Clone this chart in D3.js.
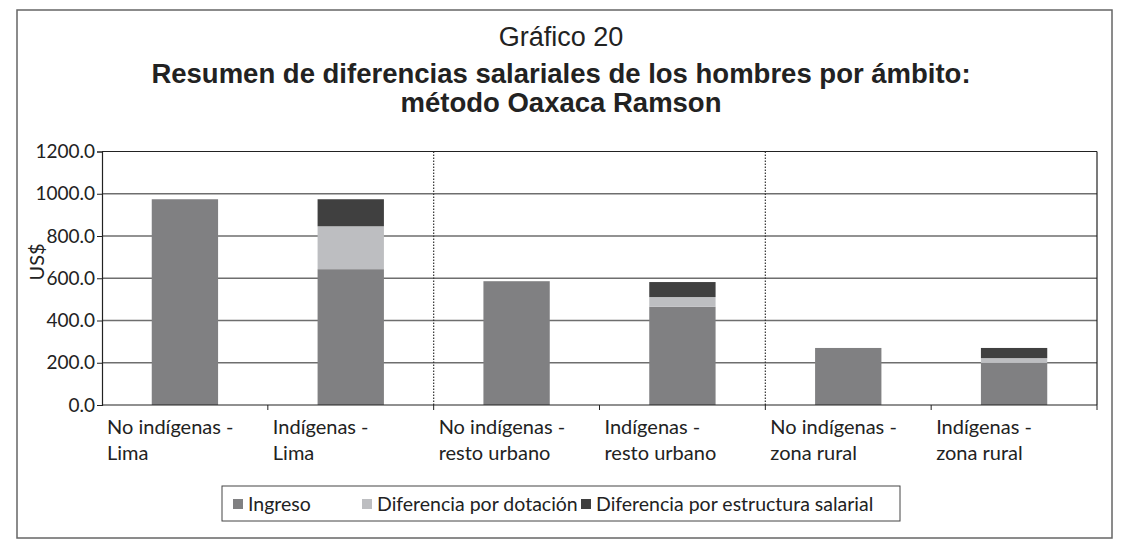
<!DOCTYPE html>
<html>
<head>
<meta charset="utf-8">
<script src="https://cdn.jsdelivr.net/npm/d3@7"></script>
<style>
  body { margin: 0; background: #fff; }
  text { font-family: Lato, "Open Sans", sans-serif; fill: #222; }
  .title { font-family: "Liberation Sans", Arial, sans-serif; }
</style>
</head>
<body>
<svg id="chart" width="1122" height="539"></svg>
<script>
// ---- data ----
var categories = ["No indígenas - Lima", "Indígenas - Lima", "No indígenas - resto urbano",
	"Indígenas - resto urbano", "No indígenas - zona rural", "Indígenas - zona rural"];
var labelLines = [["No indígenas -", "Lima"], ["Indígenas -", "Lima"], ["No indígenas -", "resto urbano"],
	["Indígenas -", "resto urbano"], ["No indígenas -", "zona rural"], ["Indígenas -", "zona rural"]];
var ingreso = [974, 643, 586, 465, 270, 199];
var dotacion = [0, 203, 0, 46, 0, 23];
var estructura = [0, 128, 0, 71, 0, 48];
var seriesNames = ["Ingreso", "Diferencia por dotación", "Diferencia por estructura salarial"];
var seriesColors = ["#808082", "#bdbec1", "#404040"];
var yTicks = [0, 200, 400, 600, 800, 1000, 1200];

var svg = d3.select("#chart");
var plotLeft = 102, plotRight = 1097, plotTop = 151.5, plotBottom = 405;

// outer frame
svg.append("rect").attr("x", 17).attr("y", 10).attr("width", 1095).attr("height", 528)
	.attr("fill", "none").attr("stroke", "#666").attr("stroke-width", 1.5);

// titles
svg.append("text").attr("class", "title").attr("x", 561).attr("y", 46).attr("text-anchor", "middle")
	.style("font-size", "27px").text("Gráfico 20");
svg.append("text").attr("class", "title").attr("x", 561).attr("y", 83).attr("text-anchor", "middle")
	.style("font-size", "27.5px").style("font-weight", "bold")
	.text("Resumen de diferencias salariales de los hombres por ámbito:");
svg.append("text").attr("class", "title").attr("x", 561).attr("y", 112).attr("text-anchor", "middle")
	.style("font-size", "27.5px").style("font-weight", "bold").text("método Oaxaca Ramson");

var x = d3.scaleBand().domain(categories).range([plotLeft, plotRight]).paddingInner(0).paddingOuter(0);
var y = d3.scaleLinear().domain([0, 1200]).range([plotBottom, plotTop]);

// gridlines
svg.append("g").selectAll("line").data(yTicks.slice(1, -1)).enter().append("line")
	.attr("x1", plotLeft).attr("x2", plotRight)
	.attr("y1", function(d) { return y(d); }).attr("y2", function(d) { return y(d); })
	.attr("stroke", "#6e6e6e").attr("stroke-width", 1.5);

// plot border top / right
svg.append("line").attr("x1", plotLeft).attr("x2", plotRight).attr("y1", y(1200)).attr("y2", y(1200))
	.attr("stroke", "#222").attr("stroke-width", 1.2);
svg.append("line").attr("x1", plotRight).attr("x2", plotRight).attr("y1", y(1200)).attr("y2", y(0))
	.attr("stroke", "#222").attr("stroke-width", 1.2);

// dotted separators
[2, 4].forEach(function(i) {
	var xs = x(categories[i]);
	svg.append("line").attr("x1", xs).attr("x2", xs).attr("y1", y(1200)).attr("y2", y(0))
		.attr("stroke", "#333").attr("stroke-width", 1.2).attr("stroke-dasharray", "1.5,1.5");
});

// stacked bars
var rows = categories.map(function(c, i) {
	return { cat: c, a: ingreso[i], b: dotacion[i], c: estructura[i] };
});
var stack = d3.stack().keys(["a", "b", "c"])(rows);
var barW = x.bandwidth() * 0.4;
svg.append("g").selectAll("g").data(stack).enter().append("g")
	.attr("fill", function(d, i) { return seriesColors[i]; })
	.selectAll("rect").data(function(d) { return d; }).enter().append("rect")
		.attr("x", function(d) { return x(d.data.cat) + (x.bandwidth() - barW) / 2; })
		.attr("width", barW)
		.attr("y", function(d) { return y(d[1]); })
		.attr("height", function(d) { return y(d[0]) - y(d[1]); });

// y axis
var yAxis = svg.append("g").attr("transform", "translate(" + plotLeft + ",0)")
	.call(d3.axisLeft(y).tickValues(yTicks).tickSize(5).tickPadding(2)
		.tickFormat(function(d) { return d3.format(".1f")(d); }));
yAxis.select(".domain").attr("stroke", "#222").attr("stroke-width", 1.2);
yAxis.selectAll(".tick line").attr("stroke", "#222");
yAxis.selectAll("text").style("font-size", "19px").style("font-family", "Lato, sans-serif").attr("fill", "#222");

// x axis
var xAxis = svg.append("g").attr("transform", "translate(0," + plotBottom + ")");
xAxis.append("line").attr("x1", plotLeft).attr("x2", plotRight).attr("stroke", "#222").attr("stroke-width", 1.2);
xAxis.selectAll(".xt").data(categories).enter().append("line")
	.attr("x1", function(d) { return x(d) + x.bandwidth(); })
	.attr("x2", function(d) { return x(d) + x.bandwidth(); })
	.attr("y1", 0).attr("y2", 5).attr("stroke", "#222");
var lbl = xAxis.selectAll(".xl").data(categories).enter().append("text")
	.attr("y", 29).style("font-size", "20px");
lbl.selectAll("tspan").data(function(d, i) { return labelLines[i].map(function(t) { return { t: t, c: d }; }); })
	.enter().append("tspan")
	.attr("x", function(d) { return x(d.c) + 5; })
	.attr("dy", function(d, i) { return i ? 26 : 0; })
	.text(function(d) { return d.t; });

// y label
svg.append("text").attr("transform", "translate(44,262) rotate(-90)").attr("text-anchor", "middle")
	.style("font-size", "20px").text("US$");

// legend
var legend = svg.append("g");
legend.append("rect").attr("x", 222).attr("y", 486).attr("width", 678).attr("height", 35)
	.attr("fill", "#fff").attr("stroke", "#444").attr("stroke-width", 1);
var legendX = [233, 362, 581];
seriesNames.forEach(function(n, i) {
	legend.append("rect").attr("x", legendX[i]).attr("y", 499).attr("width", 10).attr("height", 10)
		.attr("fill", seriesColors[i]);
	legend.append("text").attr("x", legendX[i] + 15).attr("y", 511).style("font-size", "19.5px").text(n);
});
</script>
</body>
</html>
